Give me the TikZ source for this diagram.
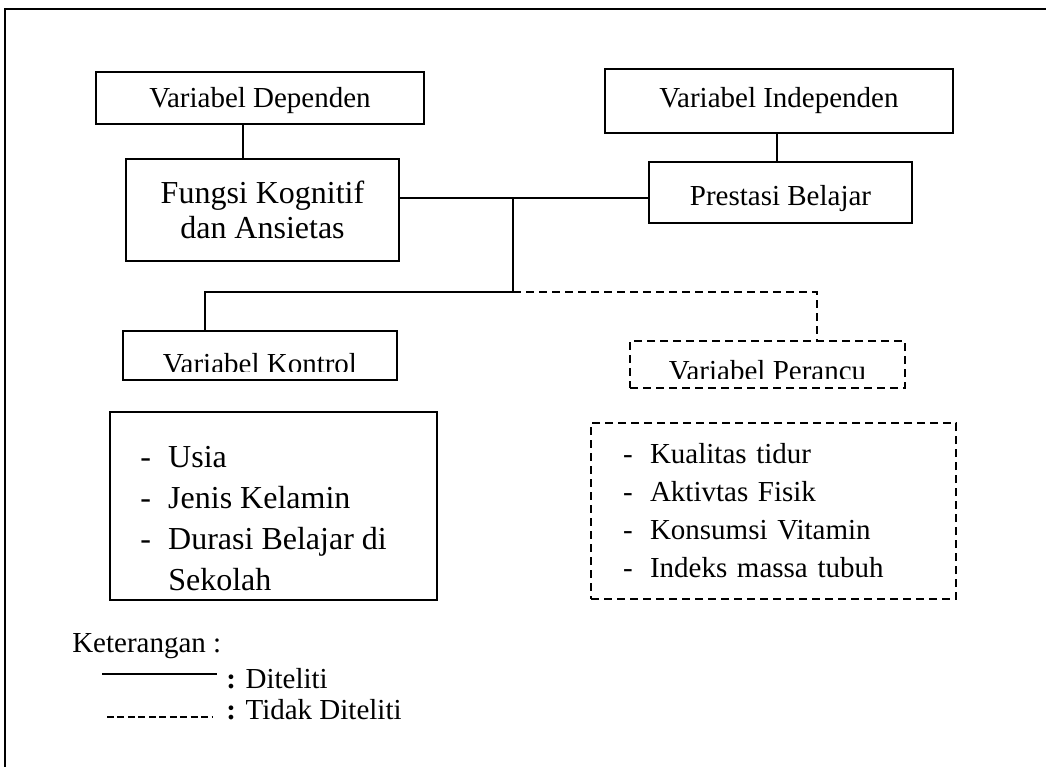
\documentclass[tikz,border=0pt]{standalone}
\usepackage{fontspec}
\setmainfont{Liberation Serif}
\newcommand\fa{\fontsize{21.75pt}{28.5pt}\selectfont}
\newcommand\fb{\fontsize{24pt}{26.25pt}\selectfont}
\newcommand\fc{\fontsize{24pt}{30.75pt}\selectfont}
\begin{document}
\begin{tikzpicture}[x=0.75pt,y=-0.75pt,
  size/.style 2 args={minimum width=#1*0.75pt, minimum height=#2*0.75pt},
  box/.style={draw, line width=1.5pt, inner sep=0pt, font=\fa},
  dbox/.style={box, dash pattern=on 6pt off 3.75pt},
  btext/.style={font=\fa, inner sep=0pt, anchor=base},
  ltext/.style={font=\fc, inner sep=0pt, anchor=base west},
  thinline/.style={line width=0.8pt},
  midline/.style={line width=1.1pt},
  trunk/.style={line width=1.5pt},
  dline/.style={line width=1.3pt, dash pattern=on 6pt off 3.75pt},
  legtext/.style={font=\fa, inner sep=0pt, anchor=base west}]
\useasboundingbox (0,0) rectangle (1046,767);
% frame (only top and left edges visible)
\draw[line width=1.5pt] (5,767) -- (5,9) -- (1046,9);

% boxes
\node[box, size={328}{52}] (dep) at (260,98) {};
\node[btext] (deptext) at (260,108) {Variabel Dependen};
\node[box, size={348}{64}] (indep) at (779,101) {};
\node[btext] (indeptext) at (779,108) {Variabel Independen};
\node[box, size={273}{102}, font=\fb, align=center] (fungsi) at (262.5,210) {Fungsi Kognitif\\dan Ansietas};
\node[box, size={263}{61}] (prest) at (780.5,192.5) {};
\node[btext] (presttext) at (780.5,205) {Prestasi Belajar};
\begin{scope}
  \clip (123,331) rectangle (397,371);
  \node[btext] (kontroltext) at (260,373) {Variabel Kontrol};
\end{scope}
\node[box, size={274}{49}] (kontrol) at (260,355.5) {};
\begin{scope}
  \clip (630,341) rectangle (905,378);
  \node[btext] (perancutext) at (767.5,380) {Variabel Perancu};
\end{scope}
\node[dbox, size={275}{47}] (perancu) at (767.5,364.5) {};

\node[box, size={327}{188}] (klist) at (273.5,506) {};
\node[ltext] (k1) at (140,467) {\makebox[21pt][l]{-}Usia};
\node[ltext] (k2) at (140,508) {\makebox[21pt][l]{-}Jenis Kelamin};
\node[ltext] (k3) at (140,549) {\makebox[21pt][l]{-}Durasi Belajar di};
\node[ltext] (k4) at (140,590) {\hspace*{21pt}Sekolah};
\node[dbox, size={365}{176}, align=left, text width=225.75pt] (plist) at (773.5,511)
  {\makebox[20.25pt][l]{-}Kualitas tidur\\
   \makebox[20.25pt][l]{-}Aktivtas Fisik\\
   \makebox[20.25pt][l]{-}Konsumsi Vitamin\\
   \makebox[20.25pt][l]{-}Indeks massa tubuh};

% connectors
\coordinate (J) at (513,198);
\coordinate (K) at (513,292);
\coordinate (KB) at (205,292);
\coordinate (PB) at (817,292);
\draw[thinline] ([xshift=-12.75pt]dep.south) -- ([xshift=-12.75pt]dep.south |- fungsi.north);
\draw[thinline] ([xshift=-1.5pt]indep.south) -- ([xshift=-1.5pt]indep.south |- prest.north);
\draw[thinline] (fungsi.east |- J) -- (prest.west |- J);
\draw[trunk] (J) -- (K);
\draw[midline] (K) -- (KB) -- (KB |- kontrol.north);
\draw[dline] (K) -- (PB) -- (PB |- perancu.north);

% legend
\node[legtext] (ket) at (72,652) {Keterangan :};
\coordinate (l1a) at (102,674);
\coordinate (l1b) at (217,674);
\draw[line width=1.6pt] (l1a) -- (l1b);
\node[legtext] (dit) at (226,688) {\textbf{:} Diteliti};
\coordinate (l2a) at (107,717);
\coordinate (l2b) at (213,717);
\draw[line width=0.8pt, dash pattern=on 5.25pt off 2.6pt] (l2a) -- (l2b);
\node[legtext] (tdit) at (226,719) {\textbf{:} Tidak Diteliti};
\end{tikzpicture}
\end{document}
